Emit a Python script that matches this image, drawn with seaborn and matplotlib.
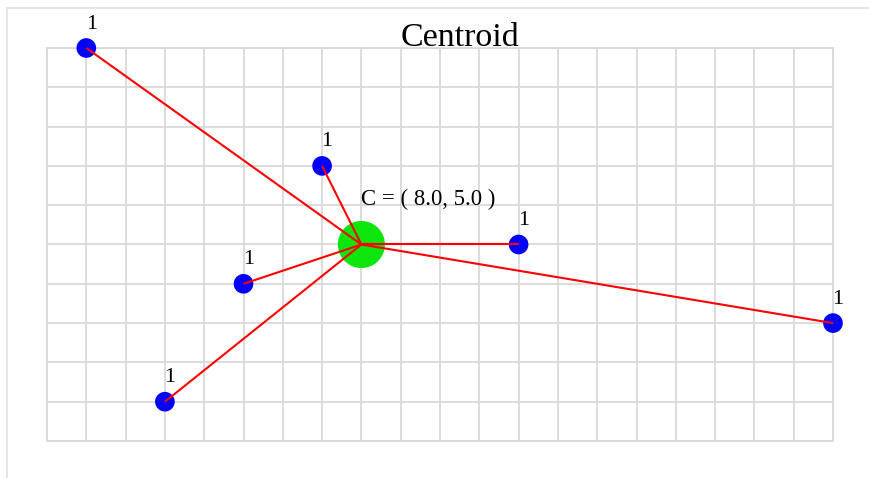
import numpy as np
import pandas as pd
import seaborn as sns
from matplotlib import pyplot as plt
from matplotlib.lines import Line2D

# points and their weights
xs = [1, 7, 12, 5, 3, 20]
ys = [10, 7, 5, 4, 1, 3]
weights = [1, 1, 1, 1, 1, 1]

pts = pd.DataFrame({'x': xs, 'y': ys, 'w': weights})
cx = np.average(pts['x'], weights=pts['w'])
cy = np.average(pts['y'], weights=pts['w'])

sns.set_style('whitegrid', {'grid.color': '#d9d9d9', 'axes.edgecolor': '#d9d9d9'})
plt.rcParams['font.family'] = ['Liberation Serif', 'DejaVu Serif']

fig = plt.figure(figsize=(8.69, 4.78), dpi=100)
ax = fig.add_axes([47 / 869, 1 - 441 / 478, 786 / 869, 393 / 478])

# centroid blob
ax.scatter([cx], [cy], s=1150, color='#0ce60c', edgecolor='none', zorder=2, clip_on=False)

# weighted points
sns.scatterplot(data=pts, x='x', y='y', s=200, color='#0000ff', marker='o',
                edgecolor='none', ax=ax, zorder=3, legend=False, clip_on=False)

# connecting lines on top
for x, y in zip(pts['x'], pts['y']):
    ax.plot([cx, x], [cy, y], color='#ff0000', lw=1.5, zorder=4,
            solid_capstyle='butt', clip_on=False)

for x, y, w in zip(pts['x'], pts['y'], pts['w']):
    ax.annotate(str(w), (x, y), xytext=(3.6, 14), textcoords='offset points',
                ha='center', va='baseline', fontsize=16, color='black',
                annotation_clip=False)

ax.annotate(f'C = ( {cx:.1f}, {cy:.1f} )', (cx, cy), xytext=(0, 28.5),
            textcoords='offset points', ha='left', va='baseline', fontsize=16.4,
            color='black')

ax.set_xlim(0, 20)
ax.set_ylim(0, 10)
ax.set_xticks(range(0, 21))
ax.set_yticks(range(0, 11))
ax.tick_params(length=0, labelbottom=False, labelleft=False)
ax.grid(True, lw=1.3)
for sp in ax.spines.values():
    sp.set_linewidth(1.3)
ax.set_xlabel('')
ax.set_ylabel('')
ax.set_axisbelow(True)

fig.text(460 / 869, 1 - 46 / 478, 'Centroid', ha='center', va='baseline',
         fontsize=24.5, color='black')

# outer frame lines (top and left)
fig.add_artist(Line2D([7.5 / 869, 1], [1 - 7.5 / 478] * 2, transform=fig.transFigure,
                      color='#e4e4e4', lw=1.3))
fig.add_artist(Line2D([7.5 / 869] * 2, [0, 1 - 7.5 / 478], transform=fig.transFigure,
                      color='#e4e4e4', lw=1.3))

fig.savefig('out.png', dpi=100)
